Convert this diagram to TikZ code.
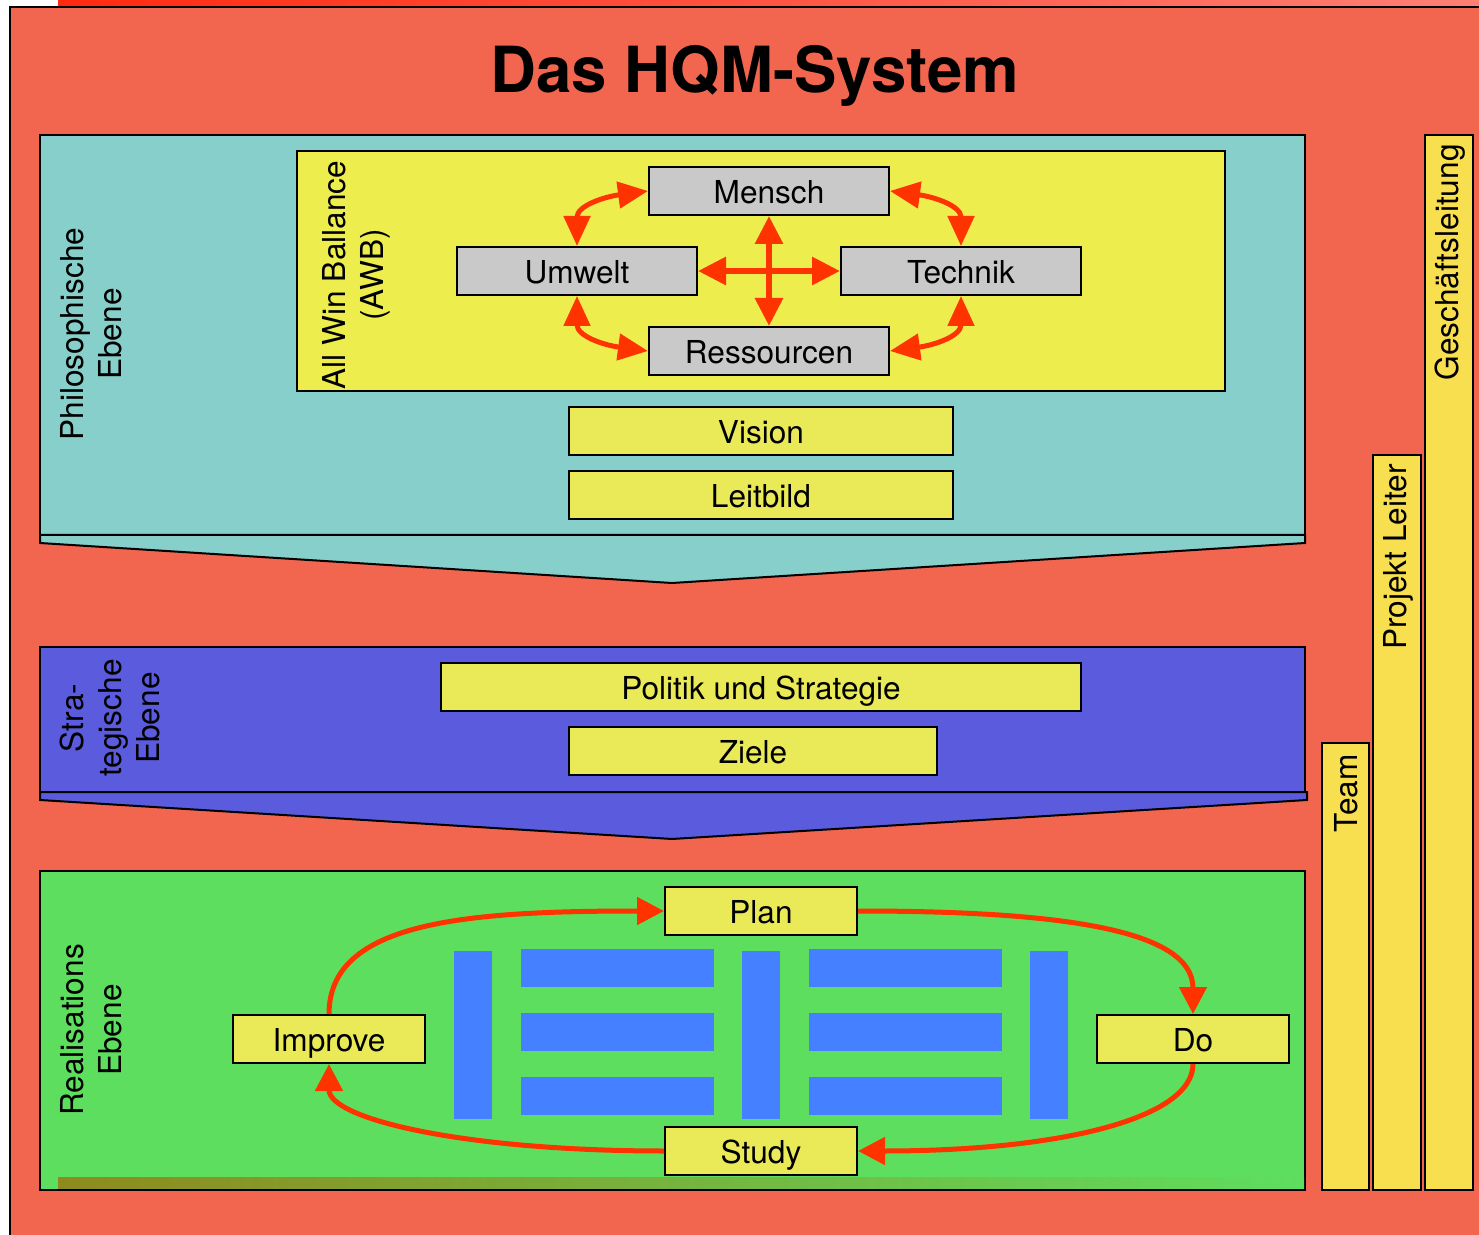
\documentclass[tikz,border=0pt]{standalone}
\usepackage{fontspec}
\setmainfont{TeX Gyre Heros}
\usetikzlibrary{arrows.meta}
\definecolor{bgred}{HTML}{F2664F}
\definecolor{topredA}{HTML}{FF2A10}
\definecolor{topredB}{HTML}{FF8075}
\definecolor{cyanband}{HTML}{86CFCB}
\definecolor{blueband}{HTML}{5B5BDD}
\definecolor{greenband}{HTML}{5EDE5E}
\definecolor{awbyellow}{HTML}{EDED4E}
\definecolor{boxyellow}{HTML}{EAEA58}
\definecolor{baryellow}{HTML}{F7DF50}
\definecolor{boxgray}{HTML}{C9C9C9}
\definecolor{pblue}{HTML}{4480FF}
\definecolor{arrred}{HTML}{FF3300}
\definecolor{olivestrip}{HTML}{8E8A1E}
\tikzset{
  txt/.style={font=\fontsize{15.8}{19}\selectfont},
  band/.style={draw=black, line width=1pt},
  graybox/.style={txt, draw=black, fill=boxgray, line width=1pt, minimum width=120pt, minimum height=24pt, inner sep=0pt, text height=12.5pt, text depth=0pt},
  ybox/.style={txt, draw=black, fill=boxyellow, line width=1pt, minimum height=24pt, inner sep=0pt, text height=12.5pt, text depth=0pt},
  vlabel/.style={txt, rotate=90, align=center, inner sep=0pt},
  awbarrow/.style={draw=arrred, line width=2.5pt, {Triangle[length=15pt,width=13pt]}-{Triangle[length=15pt,width=13pt]}},
  crossarrow/.style={draw=arrred, line width=3pt, {Triangle[length=14pt,width=13.5pt]}-{Triangle[length=14pt,width=13.5pt]}},
  pdca/.style={draw=arrred, line width=2.5pt, -{Triangle[length=13.5pt,width=13.5pt]}}
}
\begin{document}
\begin{tikzpicture}[x=0.5pt,y=-0.5pt]
\useasboundingbox (0,0) rectangle (1479,1235);
\fill[white] (0,0) rectangle (1479,1235);
\shade[left color=topredA, right color=topredB] (58,0) rectangle (1479,6);
\fill[bgred] (10,7) rectangle (1479,1235);
\draw[line width=0.6pt] (10,1235) -- (10,7) -- (1479,7);

% title
\node[font=\bfseries\fontsize{31.8}{38}\selectfont, anchor=base] (title) at (755,93) {Das HQM-System};

% philosophische band
\filldraw[band, fill=cyanband] (40,135) rectangle (1305,535);
\filldraw[band, fill=cyanband] (40,535) -- (40,543) -- (672,583) -- (1305,543) -- (1305,535) -- cycle;
% strategische band
\filldraw[band, fill=blueband] (40,647) rectangle (1305,792);
\filldraw[band, fill=blueband] (40,792) -- (40,800) -- (672,839) -- (1307,800) -- (1307,792) -- cycle;
% realisations band
\filldraw[band, fill=greenband] (40,871) rectangle (1305,1190);
\shade[left color=olivestrip, right color=greenband] (58,1177) rectangle (1304,1189);
\draw[line width=1pt] (40,1190) -- (1305,1190);

% right bars
\filldraw[band, fill=baryellow] (1322,743) rectangle (1369,1190);
\filldraw[band, fill=baryellow] (1373,455) rectangle (1421,1190);
\filldraw[band, fill=baryellow] (1425,135) rectangle (1473,1190);
\node[txt, rotate=90, anchor=east, inner sep=0pt] (team) at (1346,754) {Team};
\node[txt, rotate=90, anchor=east, inner sep=0pt] (pl) at (1398,464) {Projekt Leiter};
\node[txt, rotate=90, anchor=east, inner sep=0pt] (gl) at (1450,144) {Geschäftsleitung};

% band labels
\node[vlabel] (phil) at (91,334) {Philosophische\\Ebene};
\node[vlabel] (strat) at (110,718) {Stra-\\tegische\\Ebene};
\node[vlabel] (real) at (91,1030) {Realisations\\Ebene};

% AWB
\filldraw[band, fill=awbyellow] (297,151) rectangle (1225,391);
\node[vlabel] (awb) at (356,275) {All Win Ballance\\(AWB)};
\node[graybox] (mensch) at (769,191) {Mensch};
\node[graybox] (umwelt) at (577,271) {Umwelt};
\node[graybox] (technik) at (961,271) {Technik};
\node[graybox] (ress) at (769,351) {Ressourcen};
\draw[crossarrow] (mensch.south) -- (ress.north);
\draw[crossarrow] (umwelt.east) -- (technik.west);
\draw[awbarrow] (mensch.west) .. controls +(-45,6) and +(0,-40) .. (umwelt.north);
\draw[awbarrow] (mensch.east) .. controls +(45,6) and +(0,-40) .. (technik.north);
\draw[awbarrow] (umwelt.south) .. controls +(0,40) and +(-45,-6) .. (ress.west);
\draw[awbarrow] (technik.south) .. controls +(0,40) and +(45,-6) .. (ress.east);

\node[ybox, minimum width=192pt] (vision) at (761,431) {Vision};
\node[ybox, minimum width=192pt] (leitbild) at (761,495) {Leitbild};
\node[ybox, minimum width=320pt] (politik) at (761,687) {Politik und Strategie};
\node[ybox, minimum width=184pt] (ziele) at (753,751) {Ziele};

% blue blocks
\fill[pblue] (454,951) rectangle (492,1119);
\fill[pblue] (742,951) rectangle (780,1119);
\fill[pblue] (1030,951) rectangle (1068,1119);
\foreach \yy in {949,1013,1077} {
  \fill[pblue] (521,\yy) rectangle (714,\yy+38);
  \fill[pblue] (809,\yy) rectangle (1002,\yy+38);
}

% PDCA
\node[ybox, minimum width=96pt] (plan) at (761,911) {Plan};
\node[ybox, minimum width=96pt] (improve) at (329,1039) {Improve};
\node[ybox, minimum width=96pt] (do) at (1193,1039) {Do};
\node[ybox, minimum width=96pt] (study) at (761,1151) {Study};
\draw[pdca] (plan.east) .. controls +(200,0) and +(0,-85) .. (do.north);
\draw[pdca] (do.south) .. controls +(0,55) and +(200,0) .. (study.east);
\draw[pdca] (study.west) .. controls +(-200,0) and +(0,55) .. (improve.south);
\draw[pdca] (improve.north) .. controls +(0,-92) and +(-200,0) .. (plan.west);
\end{tikzpicture}
\end{document}
